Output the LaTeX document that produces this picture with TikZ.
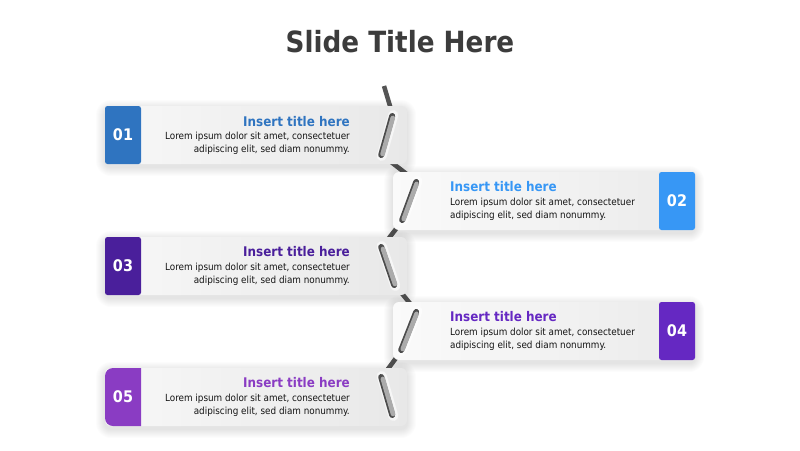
\documentclass[tikz,border=0pt]{standalone}
\usepackage{fontspec}
\setmainfont{DejaVu Sans Condensed}
\usetikzlibrary{calc}
\definecolor{cA}{HTML}{2F74C0}
\definecolor{cB}{HTML}{3797F5}
\definecolor{cC}{HTML}{4A1F9B}
\definecolor{cD}{HTML}{6528C2}
\definecolor{cE}{HTML}{8A3CC3}
\definecolor{zigc}{HTML}{555555}
\definecolor{clipc}{HTML}{ABABAB}
\definecolor{titc}{HTML}{3C3C3C}
\pgfdeclarelayer{zz}
\pgfdeclarelayer{sh}
\pgfsetlayers{zz,sh,main}
\begin{document}
\begin{tikzpicture}[x=1pt,y=-1pt,
  card/.style={rounded corners=6pt, minimum width=302pt, minimum height=58pt, inner sep=0pt, outer sep=0pt,
    left color=white!97!black, right color=black!9},
  cardr/.style={card, left color=white!98!black, right color=black!8},
  tab/.style={rounded corners=2.5pt, minimum width=36pt, minimum height=58pt, inner sep=0pt, text=white,
    font=\fontsize{16}{16}\selectfont\bfseries},
  ttl/.style={font=\fontsize{13.3}{14}\selectfont\bfseries, inner sep=0pt},
  body/.style={font=\fontsize{9.8}{10}\selectfont, inner sep=0pt, text=black!92},
  zig/.style={line width=4.5pt, draw=zigc},
  clipdark/.style={line width=6pt, draw=zigc!90!black, line cap=round},
  cliplight/.style={line width=4.6pt, draw=clipc, line cap=round},
  halo/.style={line width=10pt, draw=white, line cap=round, opacity=0.6},
  shad/.style={fill=black, opacity=0.013}
]
\useasboundingbox (0,0) rectangle (800,450);
\begin{pgfonlayer}{zz}
\fill[white] (0,0) rectangle (800,450);
\end{pgfonlayer}
\node[font=\fontsize{29.2}{29}\selectfont\bfseries, text=titc, anchor=base, inner sep=0pt] (title) at (400,52) {Slide Title Here};

% cards
\node[card] (k1) at (256,135) {};
\node[cardr] (k2) at (544,201) {};
\node[card] (k3) at (256,266) {};
\node[cardr] (k4) at (544,331) {};
\node[card] (k5) at (256,397) {};

% soft shadows
\begin{pgfonlayer}{sh}
\foreach \k in {k1,k2,k3,k4,k5}{
  \foreach \i in {1,...,9}{
    \fill[shad, rounded corners=6+\i] ($(\k.north west)+(-\i,-\i+3)$) rectangle ($(\k.south east)+(\i,\i+3)$);
  }
}
\end{pgfonlayer}

% zigzag coordinates
\coordinate (z0) at (384,86);
\coordinate (z1a) at (393,116); \coordinate (z1b) at (382,155);
\coordinate (z2a) at (417,182); \coordinate (z2b) at (403,220);
\coordinate (z3a) at (382,247); \coordinate (z3b) at (395,285);
\coordinate (z4a) at (417,312); \coordinate (z4b) at (402,350);
\coordinate (z5a) at (382,377); \coordinate (z5b) at (393,415);
\begin{pgfonlayer}{zz}
\draw[zig] (z0) -- (z1a) -- (z1b) -- (z2a) -- (z2b) -- (z3a) -- (z3b) -- (z4a) -- (z4b) -- (z5a) -- (z5b);
\end{pgfonlayer}

% tabs
\node[tab, fill=cA] (t1) at (123,135) {01};
\node[tab, fill=cB] (t2) at (677,201) {02};
\node[tab, fill=cC] (t3) at (123,266) {03};
\node[tab, fill=cD] (t4) at (677,331) {04};
\fill[cE] (141,368) [rounded corners=8pt] -- (105,368) -- (105,426) [sharp corners] -- (141,426) -- cycle;
\node[tab, fill=none, text=white] (t5) at (123,397) {05};

% clips
\foreach \a/\b in {z1a/z1b, z2a/z2b, z3a/z3b, z4a/z4b, z5a/z5b}{
  \draw[halo] ($(\a)!-1pt!(\b)$) -- ($(\b)!-1pt!(\a)$);
  \draw[clipdark] ($(\a)+(-0.8,0)$) -- ($(\b)+(-0.8,0)$);
  \draw[cliplight] ($(\a)!2pt!(\b)+(0.3,0)$) -- ($(\b)!1pt!(\a)+(0.3,0)$);
}

% texts card 1
\node[ttl, text=cA, anchor=base east] (h1) at (350,126) {Insert title here};
\node[body, anchor=base east] (b1a) at (350,139) {Lorem ipsum dolor sit amet, consectetuer};
\node[body, anchor=base east] (b1b) at (350,152) {adipiscing elit, sed diam nonummy.};
% card 2
\node[ttl, text=cB, anchor=base west] (h2) at (450,191) {Insert title here};
\node[body, anchor=base west] (b2a) at (450,205) {Lorem ipsum dolor sit amet, consectetuer};
\node[body, anchor=base west] (b2b) at (450,218) {adipiscing elit, sed diam nonummy.};
% card 3
\node[ttl, text=cC, anchor=base east] (h3) at (350,256) {Insert title here};
\node[body, anchor=base east] (b3a) at (350,270) {Lorem ipsum dolor sit amet, consectetuer};
\node[body, anchor=base east] (b3b) at (350,283) {adipiscing elit, sed diam nonummy.};
% card 4
\node[ttl, text=cD, anchor=base west] (h4) at (450,321) {Insert title here};
\node[body, anchor=base west] (b4a) at (450,335) {Lorem ipsum dolor sit amet, consectetuer};
\node[body, anchor=base west] (b4b) at (450,348) {adipiscing elit, sed diam nonummy.};
% card 5
\node[ttl, text=cE, anchor=base east] (h5) at (350,387) {Insert title here};
\node[body, anchor=base east] (b5a) at (350,401) {Lorem ipsum dolor sit amet, consectetuer};
\node[body, anchor=base east] (b5b) at (350,414) {adipiscing elit, sed diam nonummy.};
\end{tikzpicture}
\end{document}
